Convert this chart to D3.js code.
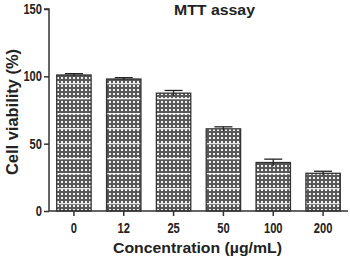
<!DOCTYPE html>
<html><head><meta charset="utf-8">
<script src="https://cdn.jsdelivr.net/npm/d3@7"></script>
<style>body{margin:0;background:#fff}svg{display:block}</style>
</head><body>
<script>
const categories = ["0","12","25","50","100","200"];
const values = [101, 98, 87.5, 61, 36, 28];
const errors = [1, 1, 2, 1.5, 2.5, 1.5];
const yTicks = [0, 50, 100, 150];

const W = 350, H = 260;
const m = {left: 49, right: 2, top: 9, bottom: 49};
const svg = d3.select("body").append("svg").attr("width", W).attr("height", H);
const font = "'Liberation Sans', Arial, sans-serif";

const defs = svg.append("defs");
const pat = defs.append("pattern").attr("id","dots").attr("patternUnits","userSpaceOnUse")
  .attr("width",4).attr("height",4).attr("x",0).attr("y",0);
pat.append("rect").attr("width",4).attr("height",4).attr("fill","#585858");
pat.append("rect").attr("x",1).attr("y",1).attr("width",2).attr("height",2).attr("fill","#f2f2f2");
const pat2 = defs.append("pattern").attr("id","stripes").attr("patternUnits","userSpaceOnUse")
  .attr("width",4).attr("height",15).attr("y",8);
pat2.append("rect").attr("x",0).attr("y",0).attr("width",4).attr("height",1.3).attr("fill","#ffffff").attr("opacity",0.85);

const x = d3.scaleBand().domain(categories).range([m.left, W - m.right]).paddingInner(0.31).paddingOuter(0.155);
const y = d3.scaleLinear().domain([0,150]).range([H - m.bottom, m.top]);

const g = svg.append("g");
categories.forEach((c,i) => {
  g.append("rect").attr("x", x(c)).attr("y", y(values[i])).attr("width", x.bandwidth())
    .attr("height", y(0)-y(values[i])).attr("fill","url(#dots)");
  g.append("rect").attr("x", x(c)).attr("y", y(values[i])).attr("width", x.bandwidth())
    .attr("height", y(0)-y(values[i])).attr("fill","url(#stripes)")
    .attr("stroke","#333").attr("stroke-width",1.3);
  const cx = x(c) + x.bandwidth()/2;
  g.append("line").attr("x1",cx).attr("x2",cx).attr("y1",y(values[i]+errors[i])).attr("y2",y(values[i]-errors[i]))
    .attr("stroke","#222").attr("stroke-width",1.3);
  g.append("line").attr("x1",cx-9).attr("x2",cx+9).attr("y1",y(values[i]+errors[i])).attr("y2",y(values[i]+errors[i]))
    .attr("stroke","#222").attr("stroke-width",1.3);
});

const yAxis = svg.append("g").attr("transform",`translate(${m.left},0)`)
  .call(d3.axisLeft(y).tickValues(yTicks).tickSize(5).tickPadding(2));
const xAxis = svg.append("g").attr("transform",`translate(0,${y(0)})`)
  .call(d3.axisBottom(x).tickSize(5).tickPadding(7).tickSizeOuter(0));
[yAxis, xAxis].forEach(a => {
  a.select(".domain").attr("stroke","#333").attr("stroke-width",1.5);
  a.selectAll(".tick line").attr("stroke","#333").attr("stroke-width",1.5);
  a.selectAll("text").attr("font-family",font).attr("font-weight","bold").attr("font-size",14).attr("fill","#222")
    .attr("textLength", function(){ return this.textContent.length * 6.2; })
    .attr("lengthAdjust","spacingAndGlyphs");
});
yAxis.select(".domain").attr("d", `M-5,${y(150)}H0V${y(0)}`);
xAxis.select(".domain").attr("d", `M${m.left},0H${W-m.right}`);

svg.append("text").attr("x",174).attr("y",14.5)
  .attr("textLength",81).attr("lengthAdjust","spacingAndGlyphs")
  .attr("font-family",font).attr("font-weight","bold").attr("font-size",14).attr("fill","#222").text("MTT assay");
svg.append("text").attr("x",113).attr("y",252.5)
  .attr("textLength",169).attr("lengthAdjust","spacingAndGlyphs")
  .attr("font-family",font).attr("font-weight","bold").attr("font-size",15).attr("fill","#222").text("Concentration (µg/mL)");
svg.append("text").attr("transform","translate(17.5,112) rotate(-90)").attr("text-anchor","middle")
  .attr("textLength",126).attr("lengthAdjust","spacingAndGlyphs")
  .attr("font-family",font).attr("font-weight","bold").attr("font-size",16.5).attr("fill","#222").text("Cell viability (%)");
</script>
</body></html>
